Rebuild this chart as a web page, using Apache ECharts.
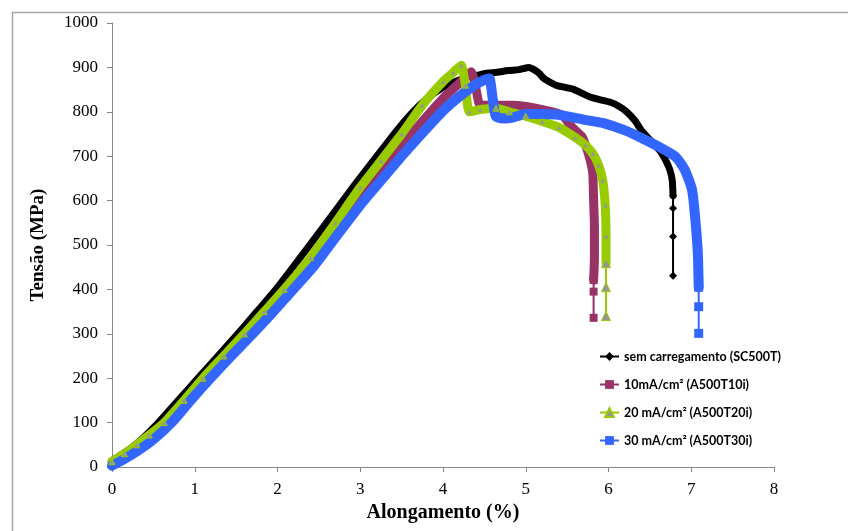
<!DOCTYPE html>
<html>
<head>
<meta charset="utf-8">
<script src="https://cdn.jsdelivr.net/npm/echarts@6/dist/echarts.min.js"></script>
<style>html,body{margin:0;padding:0;background:#fff}#c{width:848px;height:531px}</style>
</head>
<body>
<div id="c"></div>
<script>
// ---- data (strain %, stress MPa) ----
const xTicks = [0, 1, 2, 3, 4, 5, 6, 7, 8];
const yTicks = [0, 100, 200, 300, 400, 500, 600, 700, 800, 900, 1000];
const seriesNames = ['sem carregamento (SC500T)', '10mA/cm² (A500T10i)', '20 mA/cm² (A500T20i)', '30 mA/cm² (A500T30i)'];

const strainSC = [0, 0.1, 0.25, 0.4, 0.56, 0.8, 1.04, 1.28, 1.52, 1.75, 1.98, 2.3, 2.6, 2.87, 3.0, 3.2, 3.4, 3.55, 3.7, 3.85, 4.0, 4.15, 4.3, 4.44, 4.53, 4.65, 4.79, 4.92, 5.04, 5.1, 5.16, 5.22, 5.3, 5.38, 5.57, 5.77, 5.9, 6.03, 6.12, 6.22, 6.32, 6.41, 6.55, 6.63, 6.69, 6.74, 6.77, 6.78, 6.78, 6.78, 6.78];
const stressSC = [8, 22, 45, 70, 100, 150, 200, 250, 300, 350, 400, 478, 552, 620, 652, 700, 748, 782, 812, 836, 855, 868, 878, 883, 887, 889, 893, 895, 900, 895, 887, 875, 866, 859, 851, 834, 827, 821, 813, 800, 780, 755, 727, 710, 691, 670, 646, 611, 583, 519, 431];
const tailSC = 3;

const strain10 = [0, 0.15, 0.3, 0.45, 0.66, 0.9, 1.14, 1.4, 1.66, 1.9, 2.14, 2.4, 2.7, 3.0, 3.25, 3.5, 3.75, 4.0, 4.2, 4.34, 4.40, 4.45, 4.6, 4.84, 5.0, 5.2, 5.44, 5.52, 5.6, 5.68, 5.73, 5.78, 5.81, 5.82, 5.83, 5.83, 5.82, 5.82, 5.82];
const stress10 = [12, 30, 50, 72, 100, 150, 200, 250, 300, 350, 400, 462, 535, 610, 668, 724, 778, 830, 865, 890, 850, 815, 815, 815, 812, 805, 793, 774, 758, 744, 721, 690, 661, 600, 540, 470, 421, 395, 336];
const tail10 = 2;

const strain20 = [0, 0.15, 0.3, 0.45, 0.63, 0.87, 1.1, 1.35, 1.6, 1.84, 2.08, 2.4, 2.7, 3.0, 3.25, 3.5, 3.75, 4.0, 4.12, 4.22, 4.27, 4.32, 4.45, 4.64, 4.8, 5.0, 5.2, 5.4, 5.6, 5.72, 5.81, 5.88, 5.93, 5.96, 5.97, 5.97, 5.97, 5.97];
const stress20 = [12, 30, 50, 72, 100, 150, 200, 250, 300, 350, 400, 472, 550, 630, 690, 750, 815, 868, 888, 905, 860, 800, 805, 808, 800, 790, 778, 765, 742, 725, 706, 680, 646, 590, 520, 459, 405, 340];
const tail20 = 2;

const strain30 = [0, 0.15, 0.3, 0.5, 0.72, 0.95, 1.19, 1.44, 1.70, 1.95, 2.19, 2.45, 2.7, 3.0, 3.25, 3.5, 3.75, 4.0, 4.2, 4.4, 4.5, 4.56, 4.60, 4.64, 4.75, 4.84, 5.0, 5.12, 5.4, 5.77, 5.93, 6.2, 6.41, 6.6, 6.81, 6.92, 7.01, 7.05, 7.08, 7.09, 7.09, 7.09];
const stress30 = [3, 18, 35, 62, 100, 150, 200, 250, 300, 350, 400, 455, 517, 590, 645, 700, 752, 802, 835, 862, 872, 875, 830, 789, 785, 787, 795, 795, 793, 780, 775, 758, 740, 722, 699, 670, 624, 556, 480, 405, 361, 301];
const tail30 = 2;

// ---- build ----
function pairs(xs, ys) { return xs.map((x, i) => [x, ys[i]]); }
const curves = [
  { name: seriesNames[0], xs: strainSC, ys: stressSC, tail: tailSC, color: '#000000', fill: '#000000', symbol: 'diamond', band: 7, size: 8, inner: 0 },
  { name: seriesNames[1], xs: strain10, ys: stress10, tail: tail10, color: '#993366', fill: '#993366', symbol: 'rect', band: 9, size: 8, inner: 0 },
  { name: seriesNames[2], xs: strain20, ys: stress20, tail: tail20, color: '#99CC00', fill: '#969696', symbol: 'triangle', band: 9, size: 9, inner: 6 },
  { name: seriesNames[3], xs: strain30, ys: stress30, tail: tail30, color: '#3366FF', fill: '#3366FF', symbol: 'rect', band: 10, size: 9, inner: 0 }
];
const series = [];
curves.forEach((c, k) => {
  const all = pairs(c.xs, c.ys);
  const n = all.length;
  series.push({
    name: 'band' + k, type: 'line', data: all.slice(0, n - c.tail),
    showSymbol: false, silent: true, animation: false, smooth: 0.2,
    lineStyle: { color: c.color, width: c.band, join: 'round', cap: 'round' }
  });
  series.push({
    name: c.name, type: 'line', data: all, animation: false, smooth: 0.2,
    symbol: c.symbol, showSymbol: true, showAllSymbol: true,
    symbolSize: function (v, p) { return p.dataIndex >= n - c.tail - 1 ? c.size : c.inner; },
    lineStyle: { color: c.color, width: 2 },
    itemStyle: { color: c.fill, borderColor: c.color, borderWidth: c.symbol === 'triangle' ? 1 : 0 }
  });
});

const chart = echarts.init(document.getElementById('c'), null, { renderer: 'canvas' });
chart.setOption({
  animation: false,
  backgroundColor: '#ffffff',
  graphic: [{
    type: 'rect', left: 10, top: 10, shape: { x: 0, y: 0, width: 850, height: 530 },
    style: { fill: 'none', stroke: '#a6a6a6', lineWidth: 1.5 }, silent: true, z: -10
  }],
  grid: { left: 112, right: 74, top: 23, bottom: 64, containLabel: false },
  legend: {
    data: seriesNames, orient: 'vertical', left: 594, top: 345,
    itemWidth: 19, itemHeight: 11, itemGap: 15,
    textStyle: { fontFamily: 'Lato', fontWeight: 'bold', fontSize: 12.5, color: '#000' }
  },
  xAxis: {
    type: 'value', min: xTicks[0], max: xTicks[xTicks.length - 1], interval: 1,
    name: 'Alongamento (%)', nameLocation: 'middle', nameGap: 34,
    nameTextStyle: { fontFamily: 'Liberation Serif', fontWeight: 'bold', fontSize: 20, color: '#000' },
    axisLine: { onZero: false, lineStyle: { color: '#868686', width: 1 } },
    axisTick: { show: true, length: 5, lineStyle: { color: '#868686' } },
    axisLabel: { fontFamily: 'Liberation Serif', fontSize: 17, color: '#000', margin: 14, formatter: v => String(v) },
    splitLine: { show: false }
  },
  yAxis: {
    type: 'value', min: yTicks[0], max: yTicks[yTicks.length - 1], interval: 100,
    name: 'Tensão (MPa)', nameLocation: 'middle', nameGap: 64,
    nameTextStyle: { fontFamily: 'Liberation Serif', fontWeight: 'bold', fontSize: 19, color: '#000' },
    axisLine: { show: true, lineStyle: { color: '#868686', width: 1 } },
    axisTick: { show: true, length: 5, lineStyle: { color: '#868686' } },
    axisLabel: { fontFamily: 'Liberation Serif', fontSize: 17, color: '#000', margin: 14, formatter: v => String(v) },
    splitLine: { show: false }
  },
  series: series
});
</script>
</body>
</html>
